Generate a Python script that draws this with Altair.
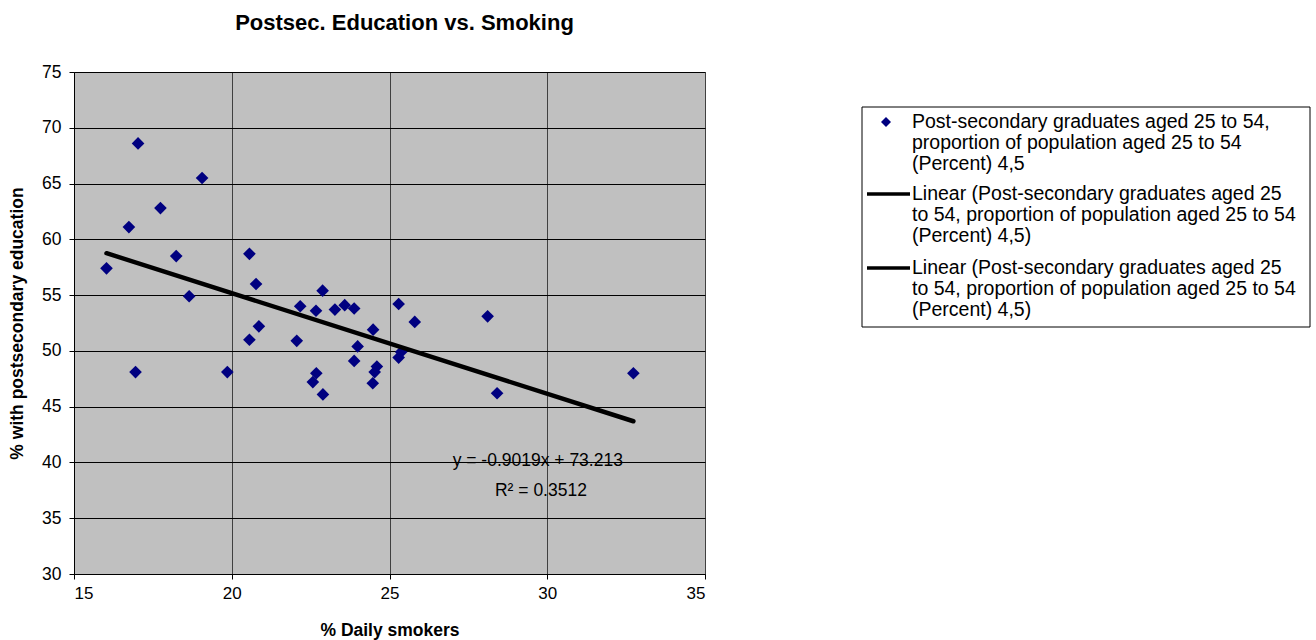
import altair as alt
import pandas as pd

# ---- data ----
smokers = [16.03, 16.74, 16.95, 17.03, 17.74, 18.24, 18.65, 19.06, 19.86, 20.56,
           20.77, 20.56, 20.86, 22.06, 22.17, 22.67, 22.88, 22.68, 22.57, 22.89,
           23.27, 23.58, 23.88, 23.88, 23.99, 24.48, 24.60, 24.53, 24.47, 25.29,
           25.80, 25.37, 25.29, 28.11, 28.41, 32.73]
postsec = [57.4, 61.1, 48.1, 68.6, 62.8, 58.5, 54.9, 65.5, 48.1, 58.7,
           56.0, 51.0, 52.2, 50.9, 54.0, 53.6, 55.4, 48.0, 47.2, 46.1,
           53.7, 54.1, 53.8, 49.1, 50.4, 51.9, 48.6, 48.1, 47.1, 54.2,
           52.6, 49.9, 49.4, 53.1, 46.2, 48.0]

slope = -0.9019
intercept = 73.213
r_squared = 0.3512

x_ticks = [15, 20, 25, 30, 35]
y_ticks = [30, 35, 40, 45, 50, 55, 60, 65, 70, 75]

series_label = ["Post-secondary graduates aged 25 to 54,",
                "proportion of population aged 25 to 54",
                "(Percent) 4,5"]
trend_label = ["Linear (Post-secondary graduates aged 25",
               "to 54, proportion of population aged 25 to 54",
               "(Percent) 4,5)"]
legend_entries = [("marker", series_label), ("line", trend_label), ("line", trend_label)]

FONT = "Liberation Sans"
NAVY = "#000080"

# ---- tables ----
pts = pd.DataFrame({"smokers": smokers, "postsec": postsec})
x_lo, x_hi = min(smokers), max(smokers)
trend = pd.DataFrame({"smokers": [x_lo, x_hi],
                      "postsec": [slope * x_lo + intercept, slope * x_hi + intercept]})
eq = pd.DataFrame({"smokers": [29.7, 29.8],
                   "postsec": [39.72, 37.0],
                   "label": [f"y = {slope}x + {intercept}", f"R\u00b2 = {r_squared}"]})

xs = alt.Scale(domain=[15, 35], nice=False, zero=False)
ys = alt.Scale(domain=[30, 75], nice=False, zero=False)

x_axis = alt.Axis(values=x_ticks, title="% Daily smokers", grid=True, gridColor="#404040",
                  gridWidth=1, tickSize=5, tickColor="black", domainColor="black",
                  labelFont=FONT, labelFontSize=17, labelColor="black", labelPadding=6,
                  titleFont=FONT, titleFontSize=17.5, titleFontWeight="bold",
                  titleColor="black", titlePadding=20)
y_axis = alt.Axis(values=y_ticks, title="% with postsecondary education", grid=True,
                  gridColor="black", gridWidth=1, tickSize=5, tickColor="black",
                  domainColor="black", labelFont=FONT, labelFontSize=17.5, labelColor="black",
                  labelPadding=8, titleFont=FONT, titleFontSize=17.5, titleFontWeight="bold",
                  titleColor="black", titlePadding=15)

X = alt.X("smokers:Q", scale=xs, axis=x_axis)
Y = alt.Y("postsec:Q", scale=ys, axis=y_axis)

points = alt.Chart(pts).mark_point(shape="diamond", filled=True, color=NAVY,
                                   size=160, opacity=1).encode(x=X, y=Y)
line = alt.Chart(trend).mark_line(color="black", strokeWidth=4.5,
                                  strokeCap="round").encode(x=X, y=Y)
eq_text = alt.Chart(eq).mark_text(font=FONT, fontSize=17.5, color="black",
                                  align="center", baseline="alphabetic").encode(
    x=X, y=Y, text="label:N")

main = alt.layer(points, line, eq_text)

# ---- legend (drawn on its own scales, offsets in px inside the legend box) ----
box_w, box_h = 448, 220
lxs = alt.Scale(domain=[0, box_w], range=[788, 788 + box_w])
lys = alt.Scale(domain=[0, box_h], range=[35, 35 + box_h])
entry_tops = [15, 87, 161]
line_gap = 21

text_rows, sym_rows, line_rows = [], [], []
for i, (kind, lines) in enumerate(legend_entries):
    top = entry_tops[i]
    for j, t in enumerate(lines):
        text_rows.append({"lx": 50, "ly": top + j * line_gap, "t": t})
    if kind == "marker":
        sym_rows.append({"lx": 24, "ly": top})
    else:
        line_rows.append({"lx": 5, "lx2": 48, "ly": top, "k": i})

box = alt.Chart(pd.DataFrame([{"x0": 0, "x1": box_w, "y0": 0, "y1": box_h}])).mark_rect(
    fill="white", stroke="black", strokeWidth=1).encode(
    x=alt.X("x0:Q", scale=lxs, axis=None), x2="x1:Q",
    y=alt.Y("y0:Q", scale=lys, axis=None), y2="y1:Q")
leg_text = alt.Chart(pd.DataFrame(text_rows)).mark_text(
    font=FONT, fontSize=19.5, color="black", align="left", baseline="middle").encode(
    x=alt.X("lx:Q", scale=lxs, axis=None), y=alt.Y("ly:Q", scale=lys, axis=None), text="t:N")
leg_sym = alt.Chart(pd.DataFrame(sym_rows)).mark_point(
    shape="diamond", filled=True, color=NAVY, size=100, opacity=1).encode(
    x=alt.X("lx:Q", scale=lxs, axis=None), y=alt.Y("ly:Q", scale=lys, axis=None))
leg_line = alt.Chart(pd.DataFrame(line_rows)).mark_rule(
    color="black", strokeWidth=3.5).encode(
    x=alt.X("lx:Q", scale=lxs, axis=None), x2="lx2:Q",
    y=alt.Y("ly:Q", scale=lys, axis=None))

legend = alt.layer(box, leg_sym, leg_line, leg_text)

chart = alt.layer(main, legend).resolve_scale(x="independent", y="independent").properties(
    width=631, height=502,
    padding={"left": 74, "top": 72, "right": 611, "bottom": 66},
    autosize=alt.AutoSizeParams(type="none"),
    background="white",
    title=alt.TitleParams("Postsec. Education vs. Smoking", font=FONT, fontSize=22,
                          fontWeight="bold", color="black", anchor="middle",
                          offset=28, dx=15),
).configure_view(fill="#C0C0C0", stroke="#808080", strokeWidth=1)

chart.save("out.html", embed_options={"renderer": "svg", "actions": False})
